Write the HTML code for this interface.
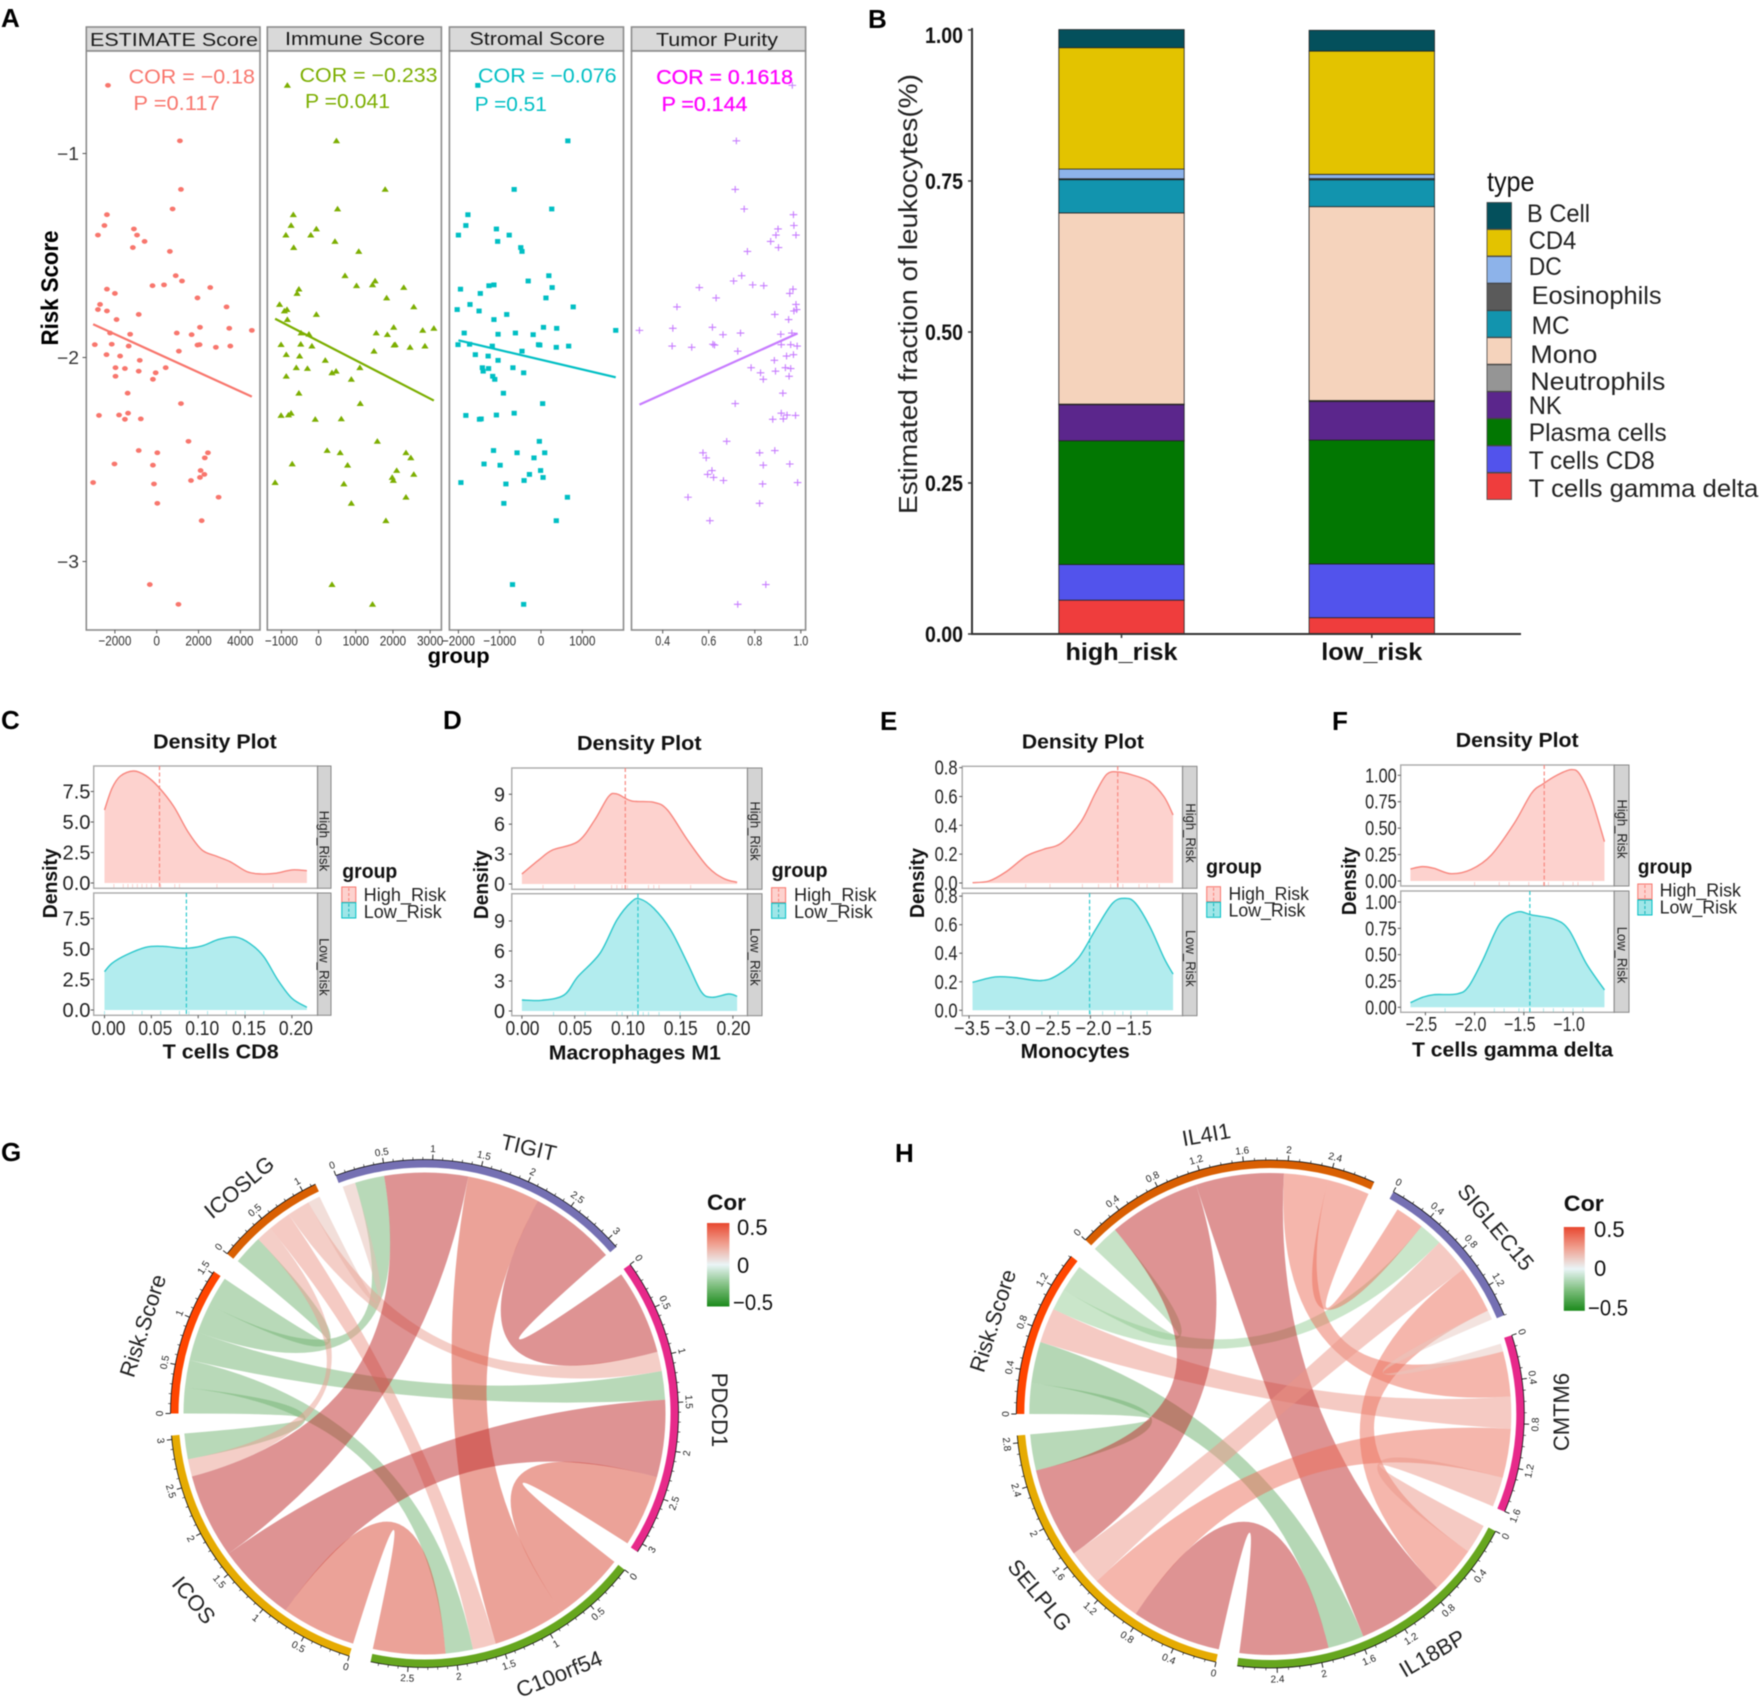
<!DOCTYPE html>
<html lang="en">
<head>
<meta charset="utf-8">
<title>Risk score, immune infiltration and correlation figure</title>
<style>
html,body{margin:0;padding:0;background:#fff;}
svg{display:block;font-family:"Liberation Sans",Arial,sans-serif;filter:blur(0.4px);}
</style>
</head>
<body>
<svg id="figure" xmlns="http://www.w3.org/2000/svg" width="1760" height="1703" viewBox="0 0 1760 1703">
<defs>
<linearGradient id="corGradient" x1="0" y1="0" x2="0" y2="1">
<stop offset="0" stop-color="#E8472F"/><stop offset="0.25" stop-color="#F0A090"/><stop offset="0.5" stop-color="#EAF5F7"/><stop offset="0.75" stop-color="#7FBF7F"/><stop offset="1" stop-color="#1B8A1B"/>
</linearGradient>
</defs>
<rect width="1760" height="1703" fill="#fff"/>

<g font-weight="700" font-size="26" fill="#000">
<text x="1" y="27">A</text>
<text x="868" y="28">B</text>
<text x="1" y="729">C</text>
<text x="443" y="729">D</text>
<text x="880" y="730">E</text>
<text x="1332" y="730">F</text>
<text x="1" y="1161">G</text>
<text x="895" y="1162">H</text>
</g>

<g id="panelA">
<g fill="#D9D9D9" stroke="#8c8c8c" stroke-width="1.6">
<rect x="86.3" y="27" width="173.7" height="24"/>
<rect x="267.3" y="27" width="174.1" height="24"/>
<rect x="449.4" y="27" width="174.1" height="24"/>
<rect x="631.5" y="27" width="174.1" height="24"/>
</g>
<g fill="#fff" stroke="#8c8c8c" stroke-width="1.6">
<rect x="86.3" y="51" width="173.7" height="579"/>
<rect x="267.3" y="51" width="174.1" height="579"/>
<rect x="449.4" y="51" width="174.1" height="579"/>
<rect x="631.5" y="51" width="174.1" height="579"/>
</g>
<g font-size="18" fill="#1a1a1a" text-anchor="start">
<text x="90" y="46" textLength="168" lengthAdjust="spacingAndGlyphs">ESTIMATE Score</text>
<text x="285" y="45" textLength="140" lengthAdjust="spacingAndGlyphs">Immune Score</text>
<text x="469.5" y="45" textLength="135.5" lengthAdjust="spacingAndGlyphs">Stromal Score</text>
<text x="656" y="46" textLength="122" lengthAdjust="spacingAndGlyphs">Tumor Purity</text>
</g>
<g font-size="20">
<text x="128.6" y="83.5" fill="#F8766D" textLength="126.4" lengthAdjust="spacingAndGlyphs">COR = −0.18</text>
<text x="133.4" y="110" fill="#F8766D" textLength="86.3" lengthAdjust="spacingAndGlyphs">P =0.117</text>
<text x="299.6" y="82" fill="#7CAE00" textLength="138" lengthAdjust="spacingAndGlyphs">COR = −0.233</text>
<text x="305" y="108" fill="#7CAE00" textLength="85" lengthAdjust="spacingAndGlyphs">P =0.041</text>
<text x="478" y="82.5" fill="#00BFC4" textLength="138.6" lengthAdjust="spacingAndGlyphs">COR = −0.076</text>
<text x="474.8" y="111" fill="#00BFC4" textLength="72" lengthAdjust="spacingAndGlyphs">P =0.51</text>
<text x="656.3" y="84" fill="#FF00FF" textLength="136.7" lengthAdjust="spacingAndGlyphs" stroke="#FF00FF" stroke-width="0.3">COR = 0.1618</text>
<text x="661.6" y="111" fill="#FF00FF" textLength="85.8" lengthAdjust="spacingAndGlyphs" stroke="#FF00FF" stroke-width="0.3">P =0.144</text>
</g>
<text transform="rotate(-90 58 288)" x="58" y="288" text-anchor="middle" font-size="24" font-weight="700" fill="#000" textLength="115" lengthAdjust="spacingAndGlyphs">Risk Score</text>
<text x="458.6" y="663" text-anchor="middle" font-size="21" font-weight="700" fill="#000" textLength="62" lengthAdjust="spacingAndGlyphs">group</text>
</g>

<g id="panelB">
<text transform="rotate(-90 917 294)" x="917" y="294" text-anchor="middle" font-size="26" fill="#222" textLength="440" lengthAdjust="spacingAndGlyphs">Estimated fraction of leukocytes(%)</text>
<text x="1487" y="191" font-size="28" fill="#111" textLength="47.5" lengthAdjust="spacingAndGlyphs">type</text>
<g stroke="#444" stroke-width="0.8">
<rect x="1487" y="202.5" width="24.5" height="26.5" fill="#04505C"/>
<rect x="1487" y="229.5" width="24.5" height="26.5" fill="#E3C300"/>
<rect x="1487" y="256.6" width="24.5" height="26.5" fill="#8DB3EA"/>
<rect x="1487" y="283.6" width="24.5" height="26.5" fill="#5A5A5A"/>
<rect x="1487" y="310.7" width="24.5" height="26.5" fill="#1294AE"/>
<rect x="1487" y="337.7" width="24.5" height="26.5" fill="#F5D3BC"/>
<rect x="1487" y="364.8" width="24.5" height="26.5" fill="#959595"/>
<rect x="1487" y="391.8" width="24.5" height="26.5" fill="#5B268C"/>
<rect x="1487" y="418.9" width="24.5" height="26.5" fill="#027702"/>
<rect x="1487" y="445.9" width="24.5" height="26.5" fill="#5253EC"/>
<rect x="1487" y="473" width="24.5" height="26.5" fill="#EF3D3D"/>
</g>
<g font-size="25" fill="#222">
<text x="1527" y="222" textLength="63" lengthAdjust="spacingAndGlyphs">B Cell</text>
<text x="1528.7" y="249" textLength="47.6" lengthAdjust="spacingAndGlyphs">CD4</text>
<text x="1528.7" y="275" textLength="33" lengthAdjust="spacingAndGlyphs">DC</text>
<text x="1531.6" y="304" textLength="130" lengthAdjust="spacingAndGlyphs">Eosinophils</text>
<text x="1531.6" y="334" textLength="38" lengthAdjust="spacingAndGlyphs">MC</text>
<text x="1530.4" y="363" textLength="67" lengthAdjust="spacingAndGlyphs">Mono</text>
<text x="1530.4" y="390" textLength="135" lengthAdjust="spacingAndGlyphs">Neutrophils</text>
<text x="1528.7" y="414" textLength="33" lengthAdjust="spacingAndGlyphs">NK</text>
<text x="1528.7" y="441" textLength="138" lengthAdjust="spacingAndGlyphs">Plasma cells</text>
<text x="1528.7" y="469" textLength="126" lengthAdjust="spacingAndGlyphs">T cells CD8</text>
<text x="1528.7" y="497" textLength="229.6" lengthAdjust="spacingAndGlyphs">T cells gamma delta</text>
</g>
</g>

<g id="densityC">
<text x="153.2" y="748.5" font-size="20" font-weight="700" fill="#111" textLength="123.5" lengthAdjust="spacingAndGlyphs">Density Plot</text>
<text x="162.7" y="1058.5" font-size="20" font-weight="700" fill="#111" textLength="116" lengthAdjust="spacingAndGlyphs">T cells CD8</text>
<text transform="rotate(-90 57 883.3)" x="57" y="883.3" text-anchor="middle" font-size="20" font-weight="700" fill="#111" textLength="70" lengthAdjust="spacingAndGlyphs">Density</text>
<text transform="rotate(90 319.5 841)" x="319.5" y="841" text-anchor="middle" font-size="14" fill="#222" textLength="60.7" lengthAdjust="spacingAndGlyphs">High_Risk</text>
<text transform="rotate(90 319.5 967)" x="319.5" y="967" text-anchor="middle" font-size="14" fill="#222" textLength="57.7" lengthAdjust="spacingAndGlyphs">Low_Risk</text>
<text x="342.3" y="878" font-size="20" font-weight="700" fill="#111" textLength="55" lengthAdjust="spacingAndGlyphs">group</text>
<rect x="341.8" y="887" width="14" height="15.3" fill="#FDD2CE" stroke="#F8766D"/>
<line x1="348.8" x2="348.8" y1="888" y2="901.3" stroke="#F8766D" stroke-dasharray="3 2" stroke-width="0.9"/>
<rect x="341.8" y="902.7" width="14" height="15.3" fill="#9FE6E8" stroke="#00BFC4"/>
<line x1="348.8" x2="348.8" y1="903.7" y2="917" stroke="#00AEB3" stroke-dasharray="3 2" stroke-width="0.9"/>
<text x="363.7" y="901" font-size="18" fill="#222" textLength="82.5" lengthAdjust="spacingAndGlyphs">High_Risk</text>
<text x="363.7" y="918" font-size="18" fill="#222" textLength="78" lengthAdjust="spacingAndGlyphs">Low_Risk</text>
</g>
<g id="densityD">
<text x="577" y="750" font-size="20" font-weight="700" fill="#111" textLength="124.5" lengthAdjust="spacingAndGlyphs">Density Plot</text>
<text x="548.8" y="1059.5" font-size="20" font-weight="700" fill="#111" textLength="172" lengthAdjust="spacingAndGlyphs">Macrophages M1</text>
<text transform="rotate(-90 488 884.6)" x="488" y="884.6" text-anchor="middle" font-size="20" font-weight="700" fill="#111" textLength="69" lengthAdjust="spacingAndGlyphs">Density</text>
<text transform="rotate(90 750.5 831)" x="750.5" y="831" text-anchor="middle" font-size="14" fill="#222" textLength="59.3" lengthAdjust="spacingAndGlyphs">High_Risk</text>
<text transform="rotate(90 750.5 957)" x="750.5" y="957" text-anchor="middle" font-size="14" fill="#222" textLength="57.7" lengthAdjust="spacingAndGlyphs">Low_Risk</text>
<text x="771.6" y="877" font-size="20" font-weight="700" fill="#111" textLength="56" lengthAdjust="spacingAndGlyphs">group</text>
<rect x="771.6" y="887.7" width="14" height="14.8" fill="#FDD2CE" stroke="#F8766D"/>
<line x1="778.6" x2="778.6" y1="888.7" y2="901.5" stroke="#F8766D" stroke-dasharray="3 2" stroke-width="0.9"/>
<rect x="771.6" y="903.3" width="14" height="15" fill="#9FE6E8" stroke="#00BFC4"/>
<line x1="778.6" x2="778.6" y1="904.3" y2="917.3" stroke="#00AEB3" stroke-dasharray="3 2" stroke-width="0.9"/>
<text x="794" y="901" font-size="18" fill="#222" textLength="82.6" lengthAdjust="spacingAndGlyphs">High_Risk</text>
<text x="794" y="918" font-size="18" fill="#222" textLength="78.7" lengthAdjust="spacingAndGlyphs">Low_Risk</text>
</g>
<g id="densityE">
<text x="1021.9" y="748.5" font-size="20" font-weight="700" fill="#111" textLength="122" lengthAdjust="spacingAndGlyphs">Density Plot</text>
<text x="1020.7" y="1058" font-size="20" font-weight="700" fill="#111" textLength="109" lengthAdjust="spacingAndGlyphs">Monocytes</text>
<text transform="rotate(-90 924 883)" x="924" y="883" text-anchor="middle" font-size="20" font-weight="700" fill="#111" textLength="70" lengthAdjust="spacingAndGlyphs">Density</text>
<text transform="rotate(90 1186 833)" x="1186" y="833" text-anchor="middle" font-size="14" fill="#222" textLength="59.4" lengthAdjust="spacingAndGlyphs">High_Risk</text>
<text transform="rotate(90 1186 958.3)" x="1186" y="958.3" text-anchor="middle" font-size="14" fill="#222" textLength="56.7" lengthAdjust="spacingAndGlyphs">Low_Risk</text>
<text x="1206" y="873.5" font-size="20" font-weight="700" fill="#111" textLength="55.8" lengthAdjust="spacingAndGlyphs">group</text>
<rect x="1206.7" y="886.7" width="13.8" height="15" fill="#FDD2CE" stroke="#F8766D"/>
<line x1="1213.6" x2="1213.6" y1="887.7" y2="900.7" stroke="#F8766D" stroke-dasharray="3 2" stroke-width="0.9"/>
<rect x="1206.7" y="902.3" width="13.8" height="15" fill="#9FE6E8" stroke="#00BFC4"/>
<line x1="1213.6" x2="1213.6" y1="903.3" y2="916.3" stroke="#00AEB3" stroke-dasharray="3 2" stroke-width="0.9"/>
<text x="1228.5" y="900" font-size="18" fill="#222" textLength="80.4" lengthAdjust="spacingAndGlyphs">High_Risk</text>
<text x="1228.5" y="916.7" font-size="18" fill="#222" textLength="76.9" lengthAdjust="spacingAndGlyphs">Low_Risk</text>
</g>
<g id="densityF">
<text x="1455.8" y="746.8" font-size="20" font-weight="700" fill="#111" textLength="122.8" lengthAdjust="spacingAndGlyphs">Density Plot</text>
<text x="1412" y="1056.5" font-size="20" font-weight="700" fill="#111" textLength="201" lengthAdjust="spacingAndGlyphs">T cells gamma delta</text>
<text transform="rotate(-90 1356 881)" x="1356" y="881" text-anchor="middle" font-size="20" font-weight="700" fill="#111" textLength="68.3" lengthAdjust="spacingAndGlyphs">Density</text>
<text transform="rotate(90 1617.3 829)" x="1617.3" y="829" text-anchor="middle" font-size="14" fill="#222" textLength="59" lengthAdjust="spacingAndGlyphs">High_Risk</text>
<text transform="rotate(90 1617.3 955)" x="1617.3" y="955" text-anchor="middle" font-size="14" fill="#222" textLength="56.6" lengthAdjust="spacingAndGlyphs">Low_Risk</text>
<text x="1637.8" y="873.5" font-size="20" font-weight="700" fill="#111" textLength="54.5" lengthAdjust="spacingAndGlyphs">group</text>
<rect x="1637.8" y="884" width="14.2" height="15" fill="#FDD2CE" stroke="#F8766D"/>
<line x1="1644.9" x2="1644.9" y1="885" y2="898" stroke="#F8766D" stroke-dasharray="3 2" stroke-width="0.9"/>
<rect x="1637.8" y="900" width="14.2" height="15" fill="#9FE6E8" stroke="#00BFC4"/>
<line x1="1644.9" x2="1644.9" y1="901" y2="914" stroke="#00AEB3" stroke-dasharray="3 2" stroke-width="0.9"/>
<text x="1659.6" y="896.7" font-size="18" fill="#222" textLength="81.4" lengthAdjust="spacingAndGlyphs">High_Risk</text>
<text x="1659.6" y="913.3" font-size="18" fill="#222" textLength="77.4" lengthAdjust="spacingAndGlyphs">Low_Risk</text>
</g>

<g id="chordG">
<g font-size="22" fill="#222" text-anchor="middle">
<text transform="rotate(13 527 1155)" x="527" y="1155">TIGIT</text>
<text transform="rotate(-40 244 1193)" x="244" y="1193">ICOSLG</text>
<text transform="rotate(-72 150 1328)" x="150" y="1328">Risk.Score</text>
<text transform="rotate(90 712 1410)" x="712" y="1410">PDCD1</text>
<text transform="rotate(50 188 1605)" x="188" y="1605">ICOS</text>
<text transform="rotate(-22 562 1681)" x="562" y="1681">C10orf54</text>
</g>
<rect x="707" y="1223" width="22.4" height="83.5" fill="url(#corGradient)"/>
<text x="707" y="1210" font-size="22" font-weight="700" fill="#111" textLength="39" lengthAdjust="spacingAndGlyphs">Cor</text>
<text x="737" y="1235" font-size="22" fill="#111">0.5</text>
<text x="737" y="1273" font-size="22" fill="#111">0</text>
<text x="733" y="1310" font-size="22" fill="#111" textLength="40" lengthAdjust="spacingAndGlyphs">−0.5</text>
</g>
<g id="chordH">
<g font-size="22" fill="#222" text-anchor="middle">
<text transform="rotate(-10 1207.6 1142)" x="1207.6" y="1142">IL4I1</text>
<text transform="rotate(50 1490 1232)" x="1490" y="1232">SIGLEC15</text>
<text transform="rotate(-90 1569 1412)" x="1569" y="1412">CMTM6</text>
<text transform="rotate(-30 1436 1660)" x="1436" y="1660">IL18BP</text>
<text transform="rotate(50 1034 1600)" x="1034" y="1600">SELPLG</text>
<text transform="rotate(-72 1000 1323)" x="1000" y="1323">Risk.Score</text>
</g>
<rect x="1563.8" y="1227" width="21" height="83.8" fill="url(#corGradient)"/>
<text x="1563.8" y="1211" font-size="22" font-weight="700" fill="#111" textLength="40" lengthAdjust="spacingAndGlyphs">Cor</text>
<text x="1594" y="1237" font-size="22" fill="#111">0.5</text>
<text x="1594" y="1276" font-size="22" fill="#111">0</text>
<text x="1588" y="1315.7" font-size="22" fill="#111" textLength="40" lengthAdjust="spacingAndGlyphs">−0.5</text>
</g>
</svg>

<script>
/* ---------- Panel A data ---------- */
const riskScores=[-0.666,-0.938,-1.176,-1.272,-1.3,-1.353,-1.4,-1.37,-1.4,-1.431,-1.461,-1.48,-1.599,-1.625,-1.644,-1.648,-1.665,-1.686,-1.657,-1.708,-1.74,-1.765,-1.772,-1.752,-1.789,-1.814,-1.852,-1.857,-1.867,-1.88,-1.886,-1.88,-1.888,-1.937,-1.935,-1.944,-1.939,-1.937,-1.95,-1.944,-1.969,-1.986,-1.993,-2.014,-2.05,-2.054,-2.05,-2.067,-2.075,-2.092,-2.107,-2.175,-2.226,-2.284,-2.282,-2.273,-2.303,-2.301,-2.411,-2.456,-2.467,-2.467,-2.492,-2.522,-2.528,-2.554,-2.573,-2.588,-2.603,-2.613,-2.62,-2.685,-2.715,-2.8,-3.113,-3.21];
const estimateScores=[-2330,1110,1160,760,-2380,-2500,-2810,-1090,-940,-580,-1140,630,910,1210,350,-200,-2380,-2000,2560,1950,-2710,-2810,-2380,3340,-860,-1920,2070,3470,4550,-2230,-1270,960,1670,-2960,-2150,-1340,1950,2050,2830,3520,1060,-2400,-1750,-810,-1970,-1520,430,-860,-50,-1970,-180,-1390,1160,-2760,-1800,-1370,-1520,-760,1520,-860,30,2450,2300,-2020,-180,2100,2280,2070,1640,-3040,-130,2960,30,2150,-330,1040];
const immuneScores=[-840,480,1790,510,-680,-740,-880,-60,-210,440,-670,1080,710,1520,1450,1020,-530,-580,2290,1830,-1050,-850,-920,2560,-60,-840,2020,3100,2800,-470,-260,1550,1850,-1010,-480,-180,2030,2060,2460,2860,1490,-870,-510,180,-600,-300,1110,470,360,-870,880,-530,1120,-1010,-810,-740,-90,610,1580,230,580,2350,2480,-710,780,2100,2560,1980,2010,-1170,680,2350,880,1810,360,1450];
const stromalScores=[-1530,650,-650,260,-1770,-1820,-2000,-1080,-770,-1050,-490,-460,190,-310,-1140,-1260,-1950,-1470,270,120,-1720,-2030,-1500,780,-830,-1140,60,380,1810,-1860,-1040,-620,-190,-2010,-1730,-1180,-30,-60,370,670,-460,-1590,-1280,-1040,-1420,-1270,-680,-1400,-420,-1170,-1120,-910,40,-1820,-1080,-650,-1490,-1450,-40,-1150,-580,90,-170,-1380,-990,-10,-280,50,-410,-1940,-850,640,-900,370,-690,-420];
const tumorPurity=[0.963,0.72,0.715,0.754,0.968,0.97,0.892,0.901,0.979,0.869,0.903,0.768,0.743,0.708,0.791,0.839,0.966,0.952,0.559,0.632,0.979,0.982,0.97,0.462,0.887,0.947,0.616,0.444,0.299,0.738,0.913,0.961,0.662,0.956,0.618,0.441,0.625,0.915,0.526,0.984,0.726,0.968,0.938,0.885,0.784,0.956,0.933,0.89,0.825,0.949,0.837,0.922,0.715,0.977,0.94,0.915,0.878,0.924,0.678,0.887,0.575,0.821,0.589,0.952,0.837,0.614,0.595,0.621,0.664,0.986,0.834,0.51,0.821,0.605,0.848,0.726];
const fitEstimateX=[-3040,4550], fitEstimateY=[-1.837,-2.192];
const fitImmuneX=[-1170,3100], fitImmuneY=[-1.81,-2.211];
const fitStromalX=[-2000,1810], fitStromalY=[-1.916,-2.097];
const fitPurityX=[0.299,0.986], fitPurityY=[-2.231,-1.882];
const riskTicks=[-1,-2,-3];
const estimateTicks=[-2000,0,2000,4000];
const immuneTicks=[-1000,0,1000,2000,3000];
const stromalTicks=[-2000,-1000,0,1000];
const purityTicks=[0.4,0.6,0.8,1.0];

/* ---------- Panel B data ---------- */
const riskGroups=['high_risk','low_risk'];
const cellTypes=['B Cell','CD4','DC','Eosinophils','MC','Mono','Neutrophils','NK','Plasma cells','T cells CD8','T cells gamma delta'];
const highRiskFractions=[0.03,0.201,0.016,0.0015,0.055,0.3166,0.001,0.0596,0.205,0.059,0.056];
const lowRiskFractions=[0.0345,0.204,0.007,0.002,0.0445,0.321,0.0015,0.064,0.205,0.089,0.027];
const fractionTicks=[0,0.25,0.5,0.75,1];

/* ---------- Panels C-F data ---------- */
const cd8HighX=[0,.008,.017,.031,.044,.058,.074,.089,.104,.119,.134,.152,.167,.182,.2,.216];
const cd8HighY=[5.98,7.76,8.77,9.18,8.8,7.84,6.26,4.21,2.71,2.21,1.75,.93,.74,.79,1.07,1.01];
const cd8LowX=[0,.008,.023,.044,.062,.086,.104,.122,.14,.155,.17,.185,.2,.216];
const cd8LowY=[3.14,3.83,4.51,5.14,5.22,5.06,5.25,5.79,5.98,5.46,4.37,2.46,.96,.22];
const cd8Means=[.0587,.0874];
const cd8RugHigh=[.01,.02,.025,.03,.035,.04,.045,.05,.06,.075,.08,.12,.18];
const cd8RugLow=[.0,.03,.04,.06,.08,.09,.11,.13,.14,.15,.17];
const cd8XTicks=[0,.05,.1,.15,.2];
const cd8YTicks=[0,2.5,5,7.5];

const m1HighX=[0,.016,.029,.053,.069,.082,.09,.104,.125,.138,.157,.176,.191,.204];
const m1HighY=[1,2.41,3.41,4.25,6.42,8.76,9.03,8.33,8.19,7.42,4.41,1.74,.57,.17];
const m1LowX=[0,.019,.04,.053,.074,.09,.104,.112,.125,.141,.157,.17,.18,.196,.204];
const m1LowY=[1.1,1.07,1.6,3.43,5.77,9.1,10.93,11.2,10.27,8.1,4.77,1.93,1.37,1.7,1.47];
const m1Means=[.098,.11];
const m1RugHigh=[.02,.05,.085,.09,.095,.1,.12,.125,.13,.16];
const m1RugLow=[.03,.06,.09,.095,.105,.11,.115,.12,.13,.15];
const m1XTicks=[0,.05,.1,.15,.2];
const m1YTicks=[0,3,6,9];

const monoHighX=[-3.457,-3.252,-3.04,-2.791,-2.578,-2.365,-2.117,-1.94,-1.798,-1.66,-1.482,-1.27,-1.092,-.979];
const monoHighY=[.002,.014,.079,.187,.234,.275,.425,.622,.754,.77,.749,.703,.599,.472];
const monoLowX=[-3.457,-3.18,-2.933,-2.613,-2.401,-2.152,-1.94,-1.727,-1.571,-1.443,-1.266,-1.089,-.979];
const monoLowY=[.196,.234,.229,.208,.248,.365,.563,.75,.785,.75,.586,.364,.254];
const monoMeans=[-1.663,-2.011];
const monoRugHigh=[-2.8,-2.5,-2.1,-1.9,-1.75,-1.6,-1.4,-1.3,-1.15];
const monoRugLow=[-2.6,-2.4,-2,-1.85,-1.7,-1.6,-1.5,-1.3];
const monoXTicks=[-3.5,-3,-2.5,-2,-1.5];
const monoYTicks=[0,.2,.4,.6,.8];

const gammaHighX=[-2.652,-2.529,-2.413,-2.238,-2.034,-1.83,-1.597,-1.422,-1.306,-1.16,-1.015,-.927,-.81,-.681];
const gammaHighY=[.114,.136,.12,.069,.11,.246,.546,.83,.918,1.003,1.054,1.003,.767,.372];
const gammaLowX=[-2.652,-2.529,-2.413,-2.179,-2.063,-1.917,-1.742,-1.567,-1.421,-1.188,-1.042,-.867,-.681];
const gammaLowY=[.044,.095,.12,.127,.196,.449,.797,.905,.877,.835,.734,.418,.165];
const gammaMeans=[-1.293,-1.439];
const gammaRugHigh=[-2,-1.75,-1.65,-1.45,-1.3,-1.25,-1.1,-1,-.95,-.8];
const gammaRugLow=[-2.3,-1.8,-1.7,-1.55,-1.5,-1.3,-1.2,-1.1,-1,-.9];
const gammaXTicks=[-2.5,-2,-1.5,-1];
const gammaYTicks=[0,.25,.5,.75,1];

/* ---------- Panels G-H data ---------- */
const sectorNamesG=['Risk.Score','ICOSLG','TIGIT','PDCD1','C10orf54','ICOS'];
const sectorLengthsG=[1.525,1.148,3.117,3.094,2.883,3.04];
const linkSourceG=[0,0,0,0,0,1,1,1,1,2,2,2,3,3,4];
const linkSourceStartG=[1.202,.884,.574,.278,0,.996,.75,.503,.331,2.176,1.386,.484,2.301,1.467,2.108];
const linkSourceEndG=[1.525,1.202,.884,.574,.278,1.13,.996,.75,.503,3.109,2.176,1.386,3.077,2.301,2.889];
const linkTargetG=[1,2,3,4,5,2,3,4,5,3,4,5,4,5,5];
const linkTargetStartG=[.01,.166,1.158,1.812,2.772,.027,.947,1.561,2.584,.031,.781,1.669,0,.807,0];
const linkTargetEndG=[.331,.484,1.467,2.108,3.05,.166,1.158,1.812,2.772,.947,1.561,2.584,.781,1.669,.807];
const linkCorG=[-.3,-.3,-.3,-.3,-.3,.05,.13,.15,.13,.45,.32,.45,.32,.45,.32];

const sectorNamesH=['Risk.Score','IL4I1','SIGLEC15','CMTM6','IL18BP','SELPLG'];
const sectorLengthsH=[1.512,2.79,1.5,1.602,2.756,2.866];
const linkSourceH=[0,0,0,0,0,1,1,1,1,2,2,2,3,3,4];
const linkSourceStartH=[0,.291,.685,1.016,1.22,.26,1.134,1.969,2.386,.614,.949,1.402,.85,1.315,1.91];
const linkSourceEndH=[.291,.685,1.016,1.22,1.48,1.134,1.968,2.386,2.787,.949,1.402,1.492,1.315,1.598,2.752];
const linkTargetH=[5,4,3,2,1,5,4,3,2,5,4,3,5,4,5];
const linkTargetStartH=[2.524,1.567,.547,.39,0,1.665,.736,.118,.114,1.327,.287,.043,.85,.008,0];
const linkTargetEndH=[2.866,1.91,.85,.614,.26,2.524,1.567,.547,.39,1.665,.736,.118,1.327,.287,.85];
const linkCorH=[-.3,-.32,.15,-.2,-.22,.45,.45,.25,.25,.15,.25,.04,.25,.15,.45];

/* ---------- helpers ---------- */
const SVG_NS='http://www.w3.org/2000/svg';
function make(parent,tag,attrs,name){
  const node=document.createElementNS(SVG_NS,tag);
  for(const key in attrs){node.setAttribute(key,attrs[key]);}
  
  
  parent.appendChild(node);
  return node;
}
function label(parent,str,attrs,name){
  const node=make(parent,'text',attrs,name);
  node.textContent=str;
  return node;
}
function signed(text){return String(text).replace('-','\u2212');}
function smoothPath(pts){
  let d='M'+pts[0][0].toFixed(2)+','+pts[0][1].toFixed(2);
  for(let i=0;i<pts.length-1;i++){
    const p0=pts[i-1]||pts[i],p1=pts[i],p2=pts[i+1],p3=pts[i+2]||p2;
    d+=' C'+(p1[0]+(p2[0]-p0[0])/6).toFixed(2)+','+(p1[1]+(p2[1]-p0[1])/6).toFixed(2)+' '+(p2[0]-(p3[0]-p1[0])/6).toFixed(2)+','+(p2[1]-(p3[1]-p1[1])/6).toFixed(2)+' '+p2[0].toFixed(2)+','+p2[1].toFixed(2);
  }
  return d;
}

/* ---------- Panel A ---------- */
function drawScatterPanel(){
  const root=document.getElementById('panelA');
  const yRisk=v=>153.5+(-1-v)*204;
  const facets=[
    {name:'estimate',xs:estimateScores,x0:156.7,k:.02091,color:'#F8766D',shape:'circle',fx:fitEstimateX,fy:fitEstimateY,ticks:estimateTicks,cw:6.6,fmt:v=>String(v)},
    {name:'immune',xs:immuneScores,x0:318.6,k:.03718,color:'#7CAE00',shape:'triangle',fx:fitImmuneX,fy:fitImmuneY,ticks:immuneTicks,cw:6.6,fmt:v=>String(v)},
    {name:'stromal',xs:stromalScores,x0:541,k:.04129,color:'#00BFC4',shape:'square',fx:fitStromalX,fy:fitStromalY,ticks:stromalTicks,cw:6.6,fmt:v=>String(v)},
    {name:'purity',xs:tumorPurity,x0:662.7-.4*230.2,k:230.2,color:'#C77CFF',shape:'plus',fx:fitPurityX,fy:fitPurityY,ticks:purityTicks,cw:5,fmt:v=>v.toFixed(1)}
  ];
  riskTicks.forEach(v=>{
    make(root,'line',{x1:82.5,x2:86.3,y1:yRisk(v),y2:yRisk(v),stroke:'#555','stroke-width':1},'y-tick-'+v);
    label(root,signed(v),{x:79,y:yRisk(v)+6.5,'text-anchor':'end','font-size':18,fill:'#333',textLength:22,lengthAdjust:'spacingAndGlyphs'},'y-tick-label-'+v);
  });
  facets.forEach(f=>{
    const xPos=v=>f.x0+v*f.k;
    f.ticks.forEach(v=>{
      const text=signed(f.fmt(v));
      make(root,'line',{x1:xPos(v),x2:xPos(v),y1:630,y2:633.5,stroke:'#555','stroke-width':1},'x-tick-'+f.name);
      label(root,text,{x:xPos(v),y:645.6,'text-anchor':'middle','font-size':14,fill:'#333',textLength:text.length*f.cw,lengthAdjust:'spacingAndGlyphs'},'x-tick-label-'+f.name);
    });
    f.xs.forEach((value,i)=>{
      const px=xPos(value),py=yRisk(riskScores[i]);
      if(f.shape==='circle'){
        make(root,'ellipse',{cx:px,cy:py,rx:2.9,ry:2.4,fill:f.color},'point-'+f.name);
      }else if(f.shape==='triangle'){
        make(root,'path',{d:'M'+px+','+(py-3.2)+'L'+(px+3.6)+','+(py+2.4)+'L'+(px-3.6)+','+(py+2.4)+'Z',fill:f.color},'point-'+f.name);
      }else if(f.shape==='square'){
        make(root,'rect',{x:px-2.6,y:py-2.4,width:5.2,height:4.8,fill:f.color},'point-'+f.name);
      }else{
        make(root,'path',{d:'M'+(px-3.8)+','+py+'H'+(px+3.8)+'M'+px+','+(py-3.4)+'V'+(py+3.4),stroke:f.color,'stroke-width':1.1,fill:'none'},'point-'+f.name);
      }
    });
    make(root,'line',{x1:xPos(f.fx[0]),y1:yRisk(f.fy[0]),x2:xPos(f.fx[1]),y2:yRisk(f.fy[1]),stroke:f.color,'stroke-width':2.2},'fit-line-'+f.name);
  });
}

/* ---------- Panel B ---------- */
function drawBars(){
  const root=document.getElementById('panelB');
  const colors=['#04505C','#E3C300','#8DB3EA','#5A5A5A','#1294AE','#F5D3BC','#959595','#5B268C','#027702','#5253EC','#EF3D3D'];
  const yPos=v=>634-604*v;
  const xCenter=i=>1121.5+i*250.3;
  [highRiskFractions,lowRiskFractions].forEach((values,g)=>{
    let acc=0;
    for(let i=values.length-1;i>=0;i--){
      const top=yPos(acc+values[i]),bottom=yPos(acc);
      make(root,'rect',{x:xCenter(g)-62.7,y:top,width:125.4,height:bottom-top,fill:colors[i],stroke:'#222','stroke-width':.8},'bar-'+riskGroups[g]+'-'+i);
      acc+=values[i];
    }
    make(root,'line',{x1:xCenter(g),x2:xCenter(g),y1:634,y2:638,stroke:'#333','stroke-width':1.5},'x-tick-'+riskGroups[g]);
    label(root,riskGroups[g],{x:xCenter(g),y:660,'text-anchor':'middle','font-size':24,'font-weight':700,fill:'#111',textLength:g===0?112:101,lengthAdjust:'spacingAndGlyphs'},'x-tick-label-'+riskGroups[g]);
  });
  make(root,'line',{x1:972,x2:972,y1:28,y2:635,stroke:'#333','stroke-width':2},'y-axis-line');
  make(root,'line',{x1:971,x2:1521,y1:634,y2:634,stroke:'#333','stroke-width':2},'x-axis-line');
  fractionTicks.forEach(v=>{
    make(root,'line',{x1:968,x2:972,y1:yPos(v),y2:yPos(v),stroke:'#333','stroke-width':1.5},'y-tick-fraction');
    label(root,v.toFixed(2),{x:963,y:yPos(v)+(v===1?13:8),'text-anchor':'end','font-size':22,'font-weight':700,fill:'#111',textLength:38,lengthAdjust:'spacingAndGlyphs'},'y-tick-label-fraction');
  });
}

/* ---------- Panels C-F ---------- */
function drawDensity(cfg){
  const outer=document.getElementById(cfg.id);
  const root=document.createElementNS(SVG_NS,'g');
  
  
  outer.insertBefore(root,outer.firstChild);
  const xPos=v=>cfg.x0+v*cfg.xk;
  const rows=[
    {key:'high',t:cfg.topBox,y0:cfg.topY0,yk:cfg.topK,xs:cfg.highX,ys:cfg.highY,mean:cfg.means[0],rug:cfg.rugHigh,fill:'#FDD2CE',line:'#F8877F'},
    {key:'low',t:cfg.botBox,y0:cfg.botY0,yk:cfg.botK,xs:cfg.lowX,ys:cfg.lowY,mean:cfg.means[1],rug:cfg.rugLow,fill:'#B2ECEE',line:'#2CC8CC'}
  ];
  rows.forEach(row=>{
    const yPos=v=>row.y0-v*row.yk;
    make(root,'rect',{x:cfg.l,y:row.t[0],width:cfg.r-cfg.l,height:row.t[1]-row.t[0],fill:'#fff',stroke:'#aaa','stroke-width':1.4},'density-facet-'+row.key);
    make(root,'rect',{x:cfg.r,y:row.t[0],width:cfg.stripR-cfg.r,height:row.t[1]-row.t[0],fill:'#D3D3D3',stroke:'#888','stroke-width':1},'density-strip-'+row.key);
    const pts=row.xs.map((x,i)=>[xPos(x),yPos(row.ys[i])]);
    const curve=smoothPath(pts);
    make(root,'path',{d:curve+' L'+pts[pts.length-1][0]+','+row.y0+' L'+pts[0][0]+','+row.y0+' Z',fill:row.fill},'density-area-'+row.key);
    make(root,'path',{d:curve,fill:'none',stroke:row.line,'stroke-width':1.4},'density-line-'+row.key);
    make(root,'line',{x1:xPos(row.mean),x2:xPos(row.mean),y1:row.t[0],y2:row.t[1],stroke:row.line,'stroke-width':1.2,'stroke-dasharray':'4 2.5'},'density-mean-'+row.key);
    row.rug.forEach(v=>{
      make(root,'line',{x1:xPos(v),x2:xPos(v),y1:row.y0+1,y2:row.y0+4.5,stroke:row.line,'stroke-width':.7,opacity:.55},'density-rug-'+row.key);
    });
    cfg.yTicks.forEach(v=>{
      make(root,'line',{x1:cfg.l-3,x2:cfg.l,y1:yPos(v),y2:yPos(v),stroke:'#555','stroke-width':1},'density-y-tick');
      label(root,v.toFixed(cfg.yDec),{x:cfg.yRight,y:yPos(v)+7,'text-anchor':'end','font-size':20,fill:'#222',textLength:cfg.yLen,lengthAdjust:'spacingAndGlyphs'},'density-y-tick-label');
    });
  });
  cfg.xTicks.forEach(v=>{
    make(root,'line',{x1:xPos(v),x2:xPos(v),y1:cfg.botBox[1],y2:cfg.botBox[1]+3,stroke:'#555','stroke-width':1},'density-x-tick');
    label(root,signed(v.toFixed(cfg.xDec)),{x:xPos(v)+cfg.xLabelDx,y:cfg.xLabelY,'text-anchor':'middle','font-size':20,fill:'#222',textLength:cfg.xLen,lengthAdjust:'spacingAndGlyphs'},'density-x-tick-label');
  });
}

/* ---------- Panels G-H ---------- */
const corStops=[-.5,-.3,-.2,0,.05,.15,.25,.32,.45];
const corRed=[60,113,150,240,230,235,235,215,190];
const corGreen=[150,179,205,240,190,150,110,70,40];
const corBlue=[60,113,150,240,180,135,90,50,40];
function corColor(c){
  let i=0;
  while(i<corStops.length-2&&c>corStops[i+1]){i++;}
  const t=Math.max(0,Math.min(1,(c-corStops[i])/(corStops[i+1]-corStops[i])));
  const mix=a=>Math.round(a[i]+(a[i+1]-a[i])*t);
  return 'rgba('+mix(corRed)+','+mix(corGreen)+','+mix(corBlue)+',0.5)';
}
function drawChord(cfg){
  const root=document.getElementById(cfg.id);
  const total=cfg.lengths.reduce((a,b)=>a+b,0);
  const gap=(360-total*cfg.dpu)/cfg.lengths.length;
  const starts=[];
  let cursor=270;
  cfg.lengths.forEach(len=>{starts.push(cursor);cursor+=len*cfg.dpu+gap;});
  const angle=(s,v)=>starts[s]+v*cfg.dpu;
  const polar=(deg,r)=>{
    const a=deg*Math.PI/180;
    return [cfg.cx+r*Math.sin(a),cfg.cy-r*Math.cos(a)];
  };
  const arc=(a0,a1,r)=>{
    const p=polar(a1,r);
    return 'A'+r+','+r+' 0 '+(a1-a0>180?1:0)+' 1 '+p[0].toFixed(2)+','+p[1].toFixed(2);
  };
  cfg.source.forEach((src,i)=>{
    const a0=angle(src,cfg.sourceStart[i]),a1=angle(src,cfg.sourceEnd[i]);
    const b0=angle(cfg.target[i],cfg.targetStart[i]),b1=angle(cfg.target[i],cfg.targetEnd[i]);
    const R=241;
    const first=polar(a0,R),b0p=polar(b0,R);
    const d='M'+first[0].toFixed(2)+','+first[1].toFixed(2)+arc(a0,a1,R)+
      'Q'+cfg.cx+','+cfg.cy+' '+b0p[0].toFixed(2)+','+b0p[1].toFixed(2)+arc(b0,b1,R)+
      'Q'+cfg.cx+','+cfg.cy+' '+first[0].toFixed(2)+','+first[1].toFixed(2)+'Z';
    make(root,'path',{d:d,fill:corColor(cfg.cor[i])},'chord-'+cfg.names[src]+'-'+cfg.names[cfg.target[i]]);
  });
  cfg.lengths.forEach((len,s)=>{
    const a0=angle(s,0),a1=angle(s,len);
    const o0=polar(a0,254),o1=polar(a1,254),i0=polar(a0,246),i1=polar(a1,246);
    const d='M'+o0[0]+','+o0[1]+'A254,254 0 0 1 '+o1[0]+','+o1[1]+'L'+i1[0]+','+i1[1]+'A246,246 0 0 0 '+i0[0]+','+i0[1]+'Z';
    make(root,'path',{d:d,fill:cfg.colors[s]},'sector-'+cfg.names[s]);
    make(root,'path',{d:'M'+o0[0]+','+o0[1]+'A254,254 0 0 1 '+o1[0]+','+o1[1],fill:'none',stroke:'#111','stroke-width':.8},'sector-axis-'+cfg.names[s]);
    const count=Math.floor(len*10+1e-6);
    for(let n=0;n<=count;n++){
      const deg=angle(s,n/10),major=n%cfg.majorEvery===0;
      const p0=polar(deg,254),p1=polar(deg,major?259:256.5);
      make(root,'line',{x1:p0[0],y1:p0[1],x2:p1[0],y2:p1[1],stroke:'#111','stroke-width':major?.9:.6},'sector-tick');
      if(major){
        const p=polar(deg,265);
        const norm=(deg+360)%360;
        const rot=(norm<=90||norm>=270)?norm:norm-180;
        label(root,String(Math.round(n)/10),{x:p[0],y:p[1]+3.5,'text-anchor':'middle','font-size':10,fill:'#222',transform:'rotate('+rot.toFixed(1)+' '+p[0].toFixed(1)+' '+p[1].toFixed(1)+')'},'sector-tick-label');
      }
    }
  });
}

/* ---------- render ---------- */
drawScatterPanel();
drawBars();
drawDensity({id:'densityC',l:93.7,r:317.6,stripR:331,topBox:[766,888.3],botBox:[893,1015.3],x0:104.5,xk:937,topY0:883,topK:12.2,botY0:1010,botK:12.2,highX:cd8HighX,highY:cd8HighY,lowX:cd8LowX,lowY:cd8LowY,means:cd8Means,rugHigh:cd8RugHigh,rugLow:cd8RugLow,xTicks:cd8XTicks,yTicks:cd8YTicks,xDec:2,yDec:1,xLabelDx:4,xLabelY:1035,xLen:34,yRight:90.5,yLen:28});
drawDensity({id:'densityD',l:511.8,r:747.5,stripR:762,topBox:[768,889.3],botBox:[893.7,1015.7],x0:521.9,xk:1055,topY0:884,topK:9.97,botY0:1011,botK:10,highX:m1HighX,highY:m1HighY,lowX:m1LowX,lowY:m1LowY,means:m1Means,rugHigh:m1RugHigh,rugLow:m1RugLow,xTicks:m1XTicks,yTicks:m1YTicks,xDec:2,yDec:0,xLabelDx:.6,xLabelY:1035,xLen:34,yRight:505,yLen:11});
drawDensity({id:'densityE',l:962.2,r:1182.6,stripR:1197,topBox:[766.3,888.3],botBox:[893.3,1015.7],x0:969.06+3.5*80.93,xk:80.93,topY0:883,topK:144.2,botY0:1010.3,botK:142.7,highX:monoHighX,highY:monoHighY,lowX:monoLowX,lowY:monoLowY,means:monoMeans,rugHigh:monoRugHigh,rugLow:monoRugLow,xTicks:monoXTicks,yTicks:monoYTicks,xDec:1,yDec:1,xLabelDx:3,xLabelY:1035,xLen:36,yRight:957.6,yLen:23});
drawDensity({id:'densityF',l:1400.7,r:1614.2,stripR:1629,topBox:[765,886],botBox:[891,1012.3],x0:1425.4+2.5*98.44,xk:98.44,topY0:881,topK:105.7,botY0:1007.3,botK:105.3,highX:gammaHighX,highY:gammaHighY,lowX:gammaLowX,lowY:gammaLowY,means:gammaMeans,rugHigh:gammaRugHigh,rugLow:gammaRugLow,xTicks:gammaXTicks,yTicks:gammaYTicks,xDec:1,yDec:2,xLabelDx:-4,xLabelY:1031,xLen:31.6,yRight:1396.7,yLen:31.6});
drawChord({id:'chordG',cx:424.5,cy:1413.5,dpu:22.29,majorEvery:5,lengths:sectorLengthsG,names:sectorNamesG,colors:['#FF4500','#D95F02','#7570B3','#E7298A','#66A61E','#E6AB02'],source:linkSourceG,sourceStart:linkSourceStartG,sourceEnd:linkSourceEndG,target:linkTargetG,targetStart:linkTargetStartG,targetEnd:linkTargetEndG,cor:linkCorG});
drawChord({id:'chordH',cx:1270.3,cy:1414,dpu:25.4,majorEvery:4,lengths:sectorLengthsH,names:sectorNamesH,colors:['#FF4500','#D95F02','#7570B3','#E7298A','#66A61E','#E6AB02'],source:linkSourceH,sourceStart:linkSourceStartH,sourceEnd:linkSourceEndH,target:linkTargetH,targetStart:linkTargetStartH,targetEnd:linkTargetEndH,cor:linkCorH});
</script>
</body>
</html>
